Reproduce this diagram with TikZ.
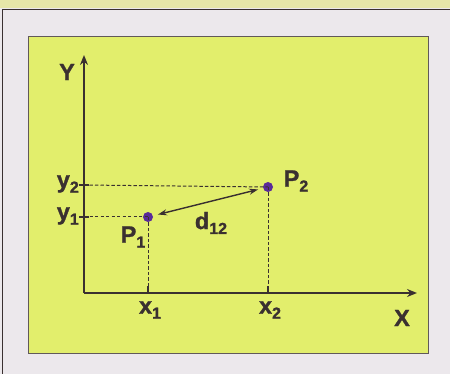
\documentclass[tikz,border=0pt]{standalone}
\usepackage{fontspec}
\setmainfont{Liberation Sans}[BoldFeatures={FakeBold=1.2}]
\usetikzlibrary{arrows.meta}
\definecolor{bgout}{HTML}{ECE8EC}
\definecolor{topstrip}{HTML}{E6E6A8}
\definecolor{panel}{HTML}{E2EE6C}
\definecolor{ink}{HTML}{3A3030}
\definecolor{dotc}{HTML}{5A2A9A}
\newcommand{\lsub}[1]{\raisebox{-0.4ex}{\fontsize{16}{16}\selectfont #1}}
\tikzset{
  lbl/.style={font=\bfseries\fontsize{23.5}{23.5}\selectfont, text=ink, inner sep=0pt},
  axis/.style={draw=ink, line width=2.4pt, -{Stealth[length=10pt,width=8pt]}},
  guide/.style={draw=ink, line width=1pt, dash pattern=on 3.3pt off 2.2pt},
  tick/.style={draw=ink, line width=1.2pt},
  pt/.style={circle, fill=dotc, inner sep=0pt, minimum size=10pt},
  dist/.style={draw=ink, line width=1.4pt, {Stealth[length=9pt,width=6pt]}-{Stealth[length=9pt,width=6pt]}, shorten <=5pt, shorten >=5pt}
}
\begin{document}
\begin{tikzpicture}[x=1pt,y=-1pt]
\useasboundingbox (0,0) rectangle (450,374);
\fill[bgout] (0,0) rectangle (450,374);
\fill[topstrip] (0,0) rectangle (450,8);
\draw[ink, line width=1.8pt] (2.5,374) -- (2.5,9.5) -- (450,9.5);
\filldraw[fill=panel, draw=ink!80, line width=1pt] (28,37) rectangle (428,353);
% axes
\coordinate (O) at (84,293);
\coordinate (Yend) at (84,55);
\coordinate (Xend) at (417,293);
\draw[axis] (O) -- (Yend);
\draw[axis] (O) -- (Xend);
\node[lbl] (Y) at (67,72) {Y};
\node[lbl] (X) at (402,318) {X};
% points
\node[pt] (P1) at (148,217) {};
\node[pt] (P2) at (268,187) {};
% axis feet
\coordinate (x1a) at (148,293);
\coordinate (x2a) at (268,293);
\coordinate (y1a) at (84,217);
\coordinate (y2a) at (84,185);
\draw[guide] (y1a) -- (P1.center);
\draw[guide] (y2a) -- (P2.center);
\draw[guide] (P1.center) -- (x1a);
\draw[guide] (P2.center) -- (x2a);
\draw[tick] ([xshift=-5pt]y1a) -- ([xshift=5pt]y1a);
\draw[tick] ([xshift=-5pt]y2a) -- ([xshift=5pt]y2a);
\draw[tick] (x1a) -- ([yshift=7pt]x1a);
\draw[tick] (x2a) -- ([yshift=7pt]x2a);
\draw[dist] (P1) -- (P2);
% labels
\node[lbl, anchor=east] (ly2) at (79,184) {y\lsub{2}};
\node[lbl, anchor=east] (ly1) at (79,216) {y\lsub{1}};
\node[lbl] (lx1) at (150,310) {x\lsub{1}};
\node[lbl] (lx2) at (270,310) {x\lsub{2}};
\node[lbl] (lP1) at (133,237) {P\lsub{1}};
\node[lbl] (lP2) at (296,181) {P\lsub{2}};
\node[lbl] (ld) at (211,223) {d\lsub{12}};
\end{tikzpicture}
\end{document}
